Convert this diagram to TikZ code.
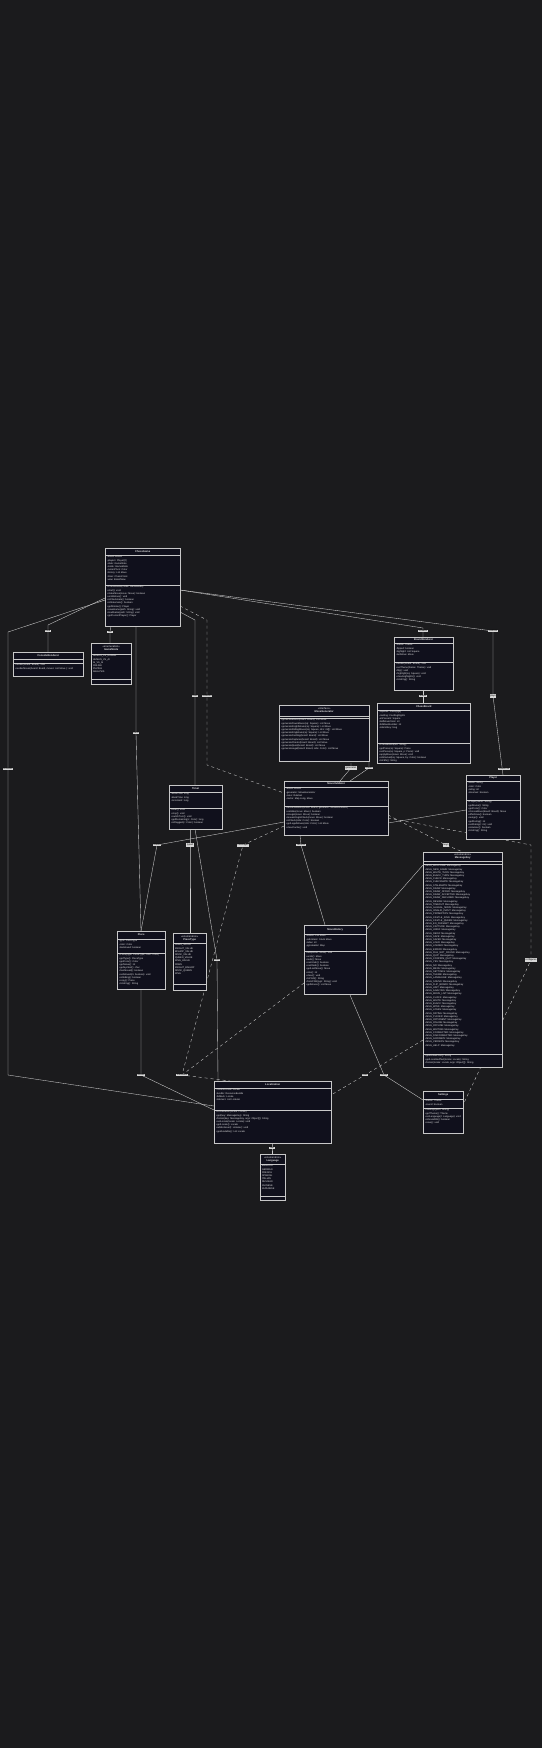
\documentclass[tikz,border=0pt]{standalone}
\usepackage{fontspec}
\setmainfont{Liberation Sans}
\usetikzlibrary{calc}
\definecolor{bg}{HTML}{1B1B1D}
\definecolor{boxfill}{HTML}{10101C}
\definecolor{boxline}{HTML}{C8C8C8}
\definecolor{fg}{HTML}{E4E4E4}
\definecolor{edge}{HTML}{D0D0D0}
\definecolor{lblfill}{HTML}{D8D8D8}
\tikzset{
 clsbox/.style={draw=boxline, fill=boxfill, line width=0.4pt, inner sep=0pt},
 clsline/.style={draw=boxline, line width=0.4pt},
 txt/.style={font=\fontsize{2.4}{3.2}\selectfont, text=fg, align=left, inner sep=0pt},
 ttl/.style={font=\fontsize{2.6}{3.0}\selectfont\bfseries, text=fg, align=center, inner sep=0pt},
 conn/.style={draw=edge, line width=0.35pt},
 lbl/.style={fill=lblfill, text=black, font=\fontsize{2.4}{2.8}\selectfont, inner sep=0.6pt},
}
\newcommand\cls[7]{%
 \node[clsbox, anchor=north west, minimum width=#4pt, minimum height={(#7-(#3))*1pt}] (#1) at (#2,#3) {};
 \coordinate (#1-h) at (#2,#5);
 \coordinate (#1-d) at (#2,#6);
 \draw[clsline] (#1-h) -- ++(#4,0);
 \draw[clsline] (#1-d) -- ++(#4,0);
}
\newcommand\clstxt[4]{%
 \node[ttl] at ($(#1.north)!0.5!(#1.north |- #1-h)$) {#2};
 \node[txt, anchor=north west] at ($(#1-h)+(1.8,1.0)$) {#3};
 \node[txt, anchor=north west] at ($(#1-d)+(1.8,1.0)$) {#4};
}
\begin{document}
\begin{tikzpicture}[x=1pt,y=-1pt]
\fill[bg] (0,0) rectangle (542,1748);
\useasboundingbox (0,0) rectangle (542,1748);

% ---------------- connectors (drawn first) ----------------
\coordinate (l1) at (48,631);
\coordinate (l2) at (110,632);
\coordinate (l3) at (8,769);
\coordinate (l4) at (136,733);
\coordinate (l5) at (423,631);
\coordinate (l6) at (493,631);
\coordinate (l7) at (423,696);
\coordinate (l8) at (493,696);
\coordinate (l9) at (195,696);
\coordinate (l10) at (207,696);
\coordinate (l11) at (351,768);
\coordinate (l12) at (369,768);
\coordinate (l13) at (504,769);
\coordinate (l14) at (157,845);
\coordinate (l15) at (190,845);
\coordinate (l16) at (243,845);
\coordinate (l17) at (301,845);
\coordinate (l18) at (446,845);
\coordinate (l19) at (217,960);
\coordinate (l20) at (531,960);
\coordinate (l21) at (141,1075);
\coordinate (l22) at (182,1075);
\coordinate (l23) at (365,1075);
\coordinate (l24) at (384,1075);
\coordinate (l25) at (272,1148);

\path[conn] (105,598) -- (48,625) -- (l1) -- (48,652);
\path[conn] (111,626) -- (l2) -- (110,643);
\path[conn] (105,600) -- (8,632) -- (l3) -- (8,1075) -- (214,1106);
\path[conn] (136,626) -- (l4) -- (141,931);
\path[conn] (180,590) -- (423,628) -- (423,637);
\path[conn] (180,590) -- (493,631) -- (l8) -- (503,775);
\path[conn] (423,690) -- (423,703);
\path[conn] (180,612) -- (195,620) -- (l9) -- (195,786);
\path[conn, dashed] (180,606) -- (207,620) -- (l10) -- (207,765) -- (284,793);
\path[conn] (351,763) -- (l11) -- (340,781);
\path[conn] (369,761) -- (l12) -- (350,781);
\path[conn] (466,810) -- (388,823);
\path[conn] (284,822) -- (l14) -- (141,931);
\path[conn] (190,829) -- (l15) -- (190,933);
\path[conn, dashed] (284,826) -- (l16) -- (182,1075) -- (230,1081);
\path[conn] (300,835) -- (l17) -- (325,925);
\path[conn, dashed] (388,815) -- (l18) -- (463,852);
\path[conn] (195,829) -- (l19) -- (218,1081);
\path[conn, dashed] (388,818) -- (531,845) -- (l20) -- (463,1105);
\path[conn] (141,989) -- (l21) -- (214,1110);
\path[conn, dashed] (304,983) -- (l22);
\path[conn, dashed] (423,1040) -- (l23) -- (331,1095);
\path[conn] (350,995) -- (l24) -- (423,1100);
\path[conn] (272,1143) -- (l25) -- (272,1154);
\path[conn] (423,865) -- (366,930);

% ---------------- classes ----------------
\cls{game}{105}{548}{75}{555}{585}{626}
\clstxt{game}{ChessGame}{%
-board: Board\\-players: Player[2]\\-state: GameState\\-mode: GameMode\\-currentTurn: Color\\-history: List~Move~\\-timer: ChessClock\\-view: BoardView}{%
+ChessGame(mode: GameMode)\\+start(): void\\+makeMove(move: Move): boolean\\+undoMove(): void\\+isCheckmate(): boolean\\+isStalemate(): boolean\\+getWinner(): Player\\+saveGame(path: String): void\\+loadGame(path: String): void\\+getCurrentPlayer(): Player}

\cls{view}{13}{652}{70}{659}{663}{676}
\clstxt{view}{ConsoleRenderer}{}{%
+render(board: Board): void\\+renderMoves(board: Board, moves: List~Move~): void}

\cls{mode}{91}{643}{40}{654}{679}{684}
\clstxt{mode}{{\normalfont<<enumeration>>}\\GameMode}{%
HUMAN\_VS\_HUMAN\\HUMAN\_VS\_AI\\AI\_VS\_AI\\ONLINE\\PUZZLE\\ANALYSIS}{}

\cls{rend}{394}{637}{59}{643}{662}{690}
\clstxt{rend}{BoardRenderer}{%
-theme: Theme\\-flipped: boolean\\-highlight: List~Square~\\-lastMove: Move}{%
+render(board: Board): void\\+setTheme(theme: Theme): void\\+flip(): void\\+highlight(sq: Square): void\\+clearHighlights(): void\\+toString(): String}

\cls{fact}{279}{705}{90}{716}{718}{761}
\clstxt{fact}{{\normalfont<<interface>>}\\MoveGenerator}{}{%
+generateMoves(board: Board): List~Move~\\+generatePawnMoves(sq: Square): List~Move~\\+generateKnightMoves(sq: Square): List~Move~\\+generateSlidingMoves(sq: Square, dirs: int[]): List~Move~\\+generateKingMoves(sq: Square): List~Move~\\+generateCastling(board: Board): List~Move~\\+generateCaptures(board: Board): List~Move~\\+generateChecks(board: Board): List~Move~\\+generateQuiet(board: Board): List~Move~\\+generateLegal(board: Board, side: Color): List~Move~}

\cls{board}{377}{703}{93}{710}{743}{763}
\clstxt{board}{ChessBoard}{%
-squares: Piece[8][8]\\-castling: CastlingRights\\-enPassant: Square\\-halfMoveClock: int\\-fullMoveNumber: int\\-zobristKey: long}{%
+ChessBoard(fen: String)\\+getPiece(sq: Square): Piece\\+setPiece(sq: Square, p: Piece): void\\+applyMove(move: Move): void\\+isAttacked(sq: Square, by: Color): boolean\\+toFEN(): String}

\cls{move}{284}{781}{104}{787}{806}{835}
\clstxt{move}{MoveValidator}{%
-board: Board\\-generator: MoveGenerator\\-rules: RuleSet\\-cache: Map~Long, Move~}{%
+MoveValidator(board: Board, generator: MoveGenerator)\\+validate(move: Move): boolean\\+isLegal(move: Move): boolean\\+leavesKingInCheck(move: Move): boolean\\+isCheck(side: Color): boolean\\+getLegalMoves(side: Color): List~Move~\\+clearCache(): void}

\cls{clock}{169}{785}{53}{792}{808}{829}
\clstxt{clock}{Timer}{%
-whiteTime: long\\-blackTime: long\\-increment: long}{%
+start(): void\\+stop(): void\\+switchTurn(): void\\+getRemaining(c: Color): long\\+isFlagged(c: Color): boolean}

\cls{player}{466}{775}{54}{781}{800}{839}
\clstxt{player}{Player}{%
-name: String\\-color: Color\\-rating: int\\-isHuman: boolean}{%
+Player(name: String)\\+getName(): String\\+getColor(): Color\\+chooseMove(board: Board): Move\\+offerDraw(): boolean\\+resign(): void\\+getRating(): int\\+setRating(r: int): void\\+isHuman(): boolean\\+toString(): String}

\cls{keys}{423}{852}{79}{861}{864}{1067}
\coordinate (keys-m) at (423,1054);
\draw[clsline] (keys-m) -- ++(79,0);
\clstxt{keys}{{\normalfont<<enumeration>>}\\MessageKey}{}{%
+MSG\_WELCOME: MessageKey\\+MSG\_NEW\_GAME: MessageKey\\+MSG\_WHITE\_TURN: MessageKey\\+MSG\_BLACK\_TURN: MessageKey\\+MSG\_CHECK: MessageKey\\+MSG\_CHECKMATE: MessageKey\\+MSG\_STALEMATE: MessageKey\\+MSG\_DRAW: MessageKey\\+MSG\_DRAW\_OFFER: MessageKey\\+MSG\_DRAW\_ACCEPTED: MessageKey\\+MSG\_DRAW\_DECLINED: MessageKey\\+MSG\_RESIGN: MessageKey\\+MSG\_TIMEOUT: MessageKey\\+MSG\_ILLEGAL\_MOVE: MessageKey\\+MSG\_INVALID\_INPUT: MessageKey\\+MSG\_PROMOTION: MessageKey\\+MSG\_CASTLE\_KING: MessageKey\\+MSG\_CASTLE\_QUEEN: MessageKey\\+MSG\_EN\_PASSANT: MessageKey\\+MSG\_CAPTURE: MessageKey\\+MSG\_UNDO: MessageKey\\+MSG\_REDO: MessageKey\\+MSG\_SAVE: MessageKey\\+MSG\_SAVED: MessageKey\\+MSG\_LOAD: MessageKey\\+MSG\_LOADED: MessageKey\\+MSG\_ERROR: MessageKey\\+MSG\_FILE\_NOT\_FOUND: MessageKey\\+MSG\_QUIT: MessageKey\\+MSG\_CONFIRM\_QUIT: MessageKey\\+MSG\_YES: MessageKey\\+MSG\_NO: MessageKey\\+MSG\_MENU: MessageKey\\+MSG\_SETTINGS: MessageKey\\+MSG\_THEME: MessageKey\\+MSG\_LANGUAGE: MessageKey\\+MSG\_SOUND: MessageKey\\+MSG\_FLIP\_BOARD: MessageKey\\+MSG\_HINT: MessageKey\\+MSG\_ANALYSIS: MessageKey\\+MSG\_MOVE\_LIST: MessageKey\\+MSG\_CLOCK: MessageKey\\+MSG\_WHITE: MessageKey\\+MSG\_BLACK: MessageKey\\+MSG\_WINS: MessageKey\\+MSG\_LOSES: MessageKey\\+MSG\_RATING: MessageKey\\+MSG\_PLAYER: MessageKey\\+MSG\_OPPONENT: MessageKey\\+MSG\_ONLINE: MessageKey\\+MSG\_OFFLINE: MessageKey\\+MSG\_WAITING: MessageKey\\+MSG\_CONNECTED: MessageKey\\+MSG\_DISCONNECTED: MessageKey\\+MSG\_GOODBYE: MessageKey\\+MSG\_VERSION: MessageKey\\+MSG\_HELP: MessageKey}
\node[txt, anchor=north west] at ($(keys-m)+(1.8,1.0)$) {+getDefaultText(): String\\+getLocalizedText(locale: Locale): String\\+format(locale: Locale, args: Object[]): String};

\cls{piece}{117}{931}{48}{939}{953}{989}
\clstxt{piece}{Piece}{%
-type: PieceType\\-color: Color\\-hasMoved: boolean}{%
+Piece(type: PieceType, color: Color)\\+getType(): PieceType\\+getColor(): Color\\+getValue(): int\\+getSymbol(): char\\+hasMoved(): boolean\\+setMoved(m: boolean): void\\+isSliding(): boolean\\+copy(): Piece\\+toString(): String}

\cls{ptype}{173}{933}{33}{943}{984}{990}
\clstxt{ptype}{{\normalfont<<enumeration>>}\\PieceType}{%
PAWN\_VALUE\\KNIGHT\_VALUE\\BISHOP\_VALUE\\ROOK\_VALUE\\QUEEN\_VALUE\\KING\_VALUE\\PAWN\\KNIGHT\_BISHOP\\ROOK\_QUEEN\\KING}{}

\cls{hist}{304}{925}{62}{934}{951}{994}
\clstxt{hist}{MoveHistory}{%
-moves: List~Move~\\-redoStack: Stack~Move~\\-index: int\\-pgnHeader: Map}{%
+add(move: Move): void\\+undo(): Move\\+redo(): Move\\+canUndo(): boolean\\+canRedo(): boolean\\+getLastMove(): Move\\+size(): int\\+clear(): void\\+toPGN(): String\\+fromPGN(pgn: String): void\\+getMoves(): List~Move~}

\cls{loc}{214}{1081}{117}{1088}{1110}{1143}
\clstxt{loc}{Localization}{%
-currentLocale: Locale\\-bundle: ResourceBundle\\-fallback: Locale\\-listeners: List~Listener~}{%
+Localization(locale: Locale)\\+get(key: MessageKey): String\\+format(key: MessageKey, args: Object[]): String\\+setLocale(locale: Locale): void\\+getLocale(): Locale\\+addListener(l: Listener): void\\+getAvailable(): List~Locale~}

\cls{lang}{260}{1154}{25}{1164}{1196}{1200}
\clstxt{lang}{{\normalfont<<enumeration>>}\\Language}{%
ENGLISH\\GERMAN\\FRENCH\\SPANISH\\ITALIAN\\RUSSIAN\\CHINESE\\JAPANESE}{}

\cls{set}{423}{1091}{40}{1099}{1108}{1133}
\clstxt{set}{Settings}{%
-theme: Theme\\-sound: boolean}{%
+Settings(path: String)\\+getTheme(): Theme\\+setLanguage(l: Language): void\\+isSoundOn(): boolean\\+save(): void}

% ---------------- edge labels ----------------
\foreach \c/\t in {l1/bind, l2/has, l3/localizes, l4/owns, l5/renders, l6/controls, l7/draws, l8/plays, l9/uses, l10/validates, l11/generates, l12/checks, l13/moves on, l14/checks, l15/typed, l16/messages, l17/records, l18/keys, l19/times, l20/configures, l21/names, l22/translates, l23/uses, l24/stores, l25/has}
 \node[lbl] at (\c) {\t};
\end{tikzpicture}
\end{document}
